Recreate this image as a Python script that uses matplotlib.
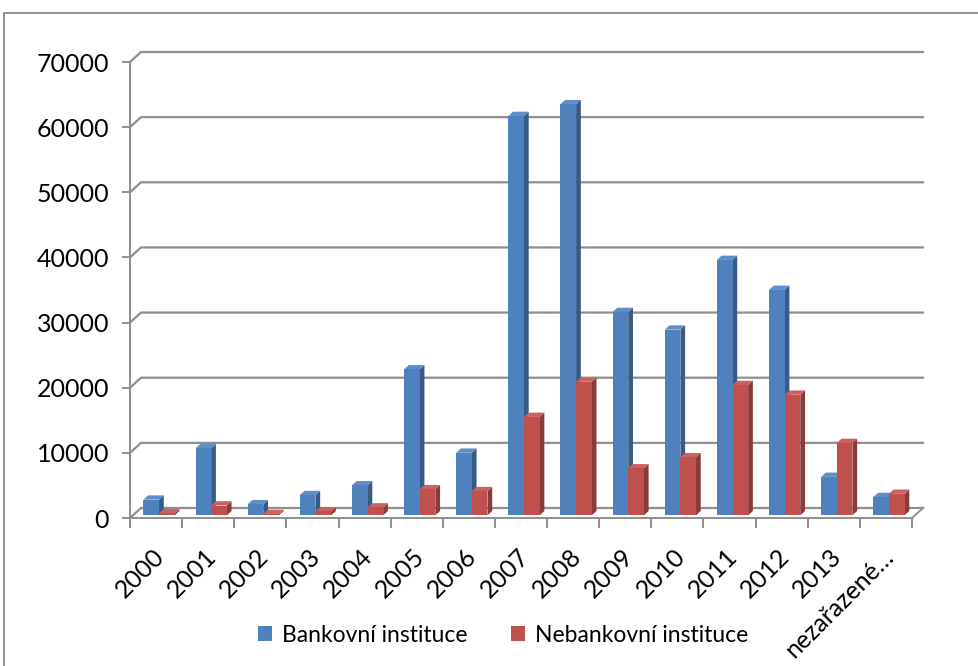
import numpy as np
import matplotlib
matplotlib.use("Agg")
import matplotlib.pyplot as plt
from matplotlib.patches import Polygon, Rectangle
from matplotlib.lines import Line2D
from matplotlib.transforms import IdentityTransform, ScaledTranslation

plt.rcParams['font.family'] = ['Lato', 'DejaVu Sans']

# --- data -------------------------------------------------------------
categories = ['2000', '2001', '2002', '2003', '2004', '2005', '2006', '2007',
              '2008', '2009', '2010', '2011', '2012', '2013', 'nezařazené…']
bankovni = [2400, 10300, 1700, 3100, 4600, 22400, 9600, 61300,
            63100, 31200, 28500, 39200, 34600, 5900, 2800]
nebankovni = [300, 1500, 200, 600, 1200, 4000, 3700, 15100,
              20500, 7200, 8900, 20000, 18500, 11100, 3300]
series_names = ['Bankovní instituce', 'Nebankovní instituce']
y_ticks = [0, 10000, 20000, 30000, 40000, 50000, 60000, 70000]

# --- styling ----------------------------------------------------------
front_cols = ['#4F81BD', '#C0504D']
side_cols = ['#375B87', '#8B3A38']
top_cols = ['#5F8DC7', '#CC615E']
grid_col = '#8E8E8E'
DEPTH = np.array([11.0, 10.0])   # pixel offset of the back wall
F0, F1 = 0.27, 0.70              # depth fractions of the bar front / back

W, H = 979, 666
fig = plt.figure(figsize=(W / 100, H / 100), dpi=100)
ax = fig.add_axes([130 / W, (H - 518) / H, 782 / W, 456 / H])
n = len(categories)
ax.set_xlim(-0.5, n - 0.5)
ax.set_ylim(0, max(y_ticks))

# axes decoration
for s in ['top', 'right']:
    ax.spines[s].set_visible(False)
for s in ['left', 'bottom']:
    ax.spines[s].set_color(grid_col)
    ax.spines[s].set_linewidth(1.4)
ax.set_yticks(y_ticks)
ax.set_yticklabels([str(v) for v in y_ticks], fontsize=18)
ax.tick_params(axis='y', length=6, width=1.4, color=grid_col, pad=9)
ax.set_xticks(np.arange(n))
ax.set_xticklabels(categories, rotation=45, ha='right', va='top',
                   rotation_mode='anchor', fontsize=18)
ax.tick_params(axis='x', which='major', length=0, pad=19)
ax.set_xticks(np.arange(-0.5, n, 1.0), minor=True)
ax.tick_params(axis='x', which='minor', length=7, width=1.4, color=grid_col)
shift = ScaledTranslation(-4 / 100, 0, fig.dpi_scale_trans)
for lab in ax.get_xticklabels():
    lab.set_transform(lab.get_transform() + shift)


def pt(x, v, depth):
    """Display coordinates of data point (x, v) pushed back by a depth fraction."""
    p = ax.transData.transform((x, v))
    return p + depth * DEPTH


ident = IdentityTransform()

# back wall gridlines with the slanted side-wall segment
for v in y_ticks:
    a = pt(-0.5, v, 0.0)
    b = pt(-0.5, v, 1.0)
    c = pt(n - 0.5, v, 1.0)
    ax.add_line(Line2D([a[0], b[0], c[0]], [a[1], b[1], c[1]], color=grid_col,
                       lw=1.6, transform=ident, clip_on=False, zorder=1))

# floor right edge
a = pt(n - 0.5, 0, 0.0)
b = pt(n - 0.5, 0, 1.0)
ax.add_line(Line2D([a[0], b[0]], [a[1], b[1]], color=grid_col, lw=1.4,
                   transform=ident, clip_on=False, zorder=1))

# 3D-looking columns
bw = 0.30
for i in range(n):
    for k, vals in enumerate([bankovni, nebankovni]):
        v = vals[i]
        x0 = i - bw + k * bw
        x1 = x0 + bw
        front = [pt(x0, 0, F0), pt(x1, 0, F0), pt(x1, v, F0), pt(x0, v, F0)]
        side = [pt(x1, 0, F0), pt(x1, 0, F1), pt(x1, v, F1), pt(x1, v, F0)]
        top = [pt(x0, v, F0), pt(x1, v, F0), pt(x1, v, F1), pt(x0, v, F1)]
        z = 2 + i * 0.1 + k * 0.01
        for poly, col in [(side, side_cols[k]), (top, top_cols[k]),
                          (front, front_cols[k])]:
            ax.add_patch(Polygon(poly, closed=True, facecolor=col,
                                 edgecolor='none', transform=ident,
                                 clip_on=False, zorder=z))

# legend
handles = [Rectangle((0, 0), 1, 1, facecolor=c, edgecolor='none') for c in front_cols]
fig.legend(handles, series_names, loc='center', bbox_to_anchor=(503 / W, 1 - 635 / H),
           ncol=2, frameon=False, fontsize=16.5, handlelength=0.6, handleheight=0.6,
           handletextpad=0.45, columnspacing=1.9)

# chart frame
fig.patches.append(Rectangle((4 / W, -0.05), 1.1, (H - 13) / H + 0.05,
                             transform=fig.transFigure, fill=False,
                             edgecolor='#8A8A8A', lw=1.3, clip_on=False))

fig.savefig('out.png', dpi=100)
